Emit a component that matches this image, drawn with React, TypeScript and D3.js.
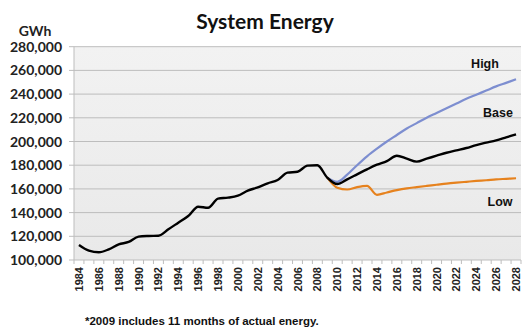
import React from "react";
import * as d3 from "d3";

const years: number[] = d3.range(1984, 2029);

const actualYears = [1984,1985,1986,1987,1988,1989,1990,1991,1992,1993,1994,1995,1996,1997,1998,1999,2000,2001,2002,2003,2004,2005,2006,2007,2008,2009];
const actualValues = [112700,107900,106500,109000,113200,115200,119700,120300,120500,125900,131500,137100,145000,144100,151800,152600,154300,158500,161300,164700,167500,173700,174500,179600,179900,169500];

const forecastYears = [2009,2010,2011,2012,2013,2014,2015,2016,2017,2018,2019,2020,2021,2022,2023,2024,2025,2026,2027,2028];
const baseValues = [169500,164100,168100,172300,176500,180400,183500,188000,185500,183000,185500,188000,190500,192500,194500,197000,199000,201000,203500,206000];
const highValues = [169500,166000,172000,180000,187500,194000,200000,205500,211000,215500,220000,224000,228000,232000,236000,239500,243000,246500,249500,252500];
const lowValues = [169500,161000,159500,161500,162500,155000,157000,159000,160500,161500,162500,163500,164500,165300,166000,166700,167300,168000,168500,169000];

const yTicks = [100000,120000,140000,160000,180000,200000,220000,240000,260000,280000];

const W = 529, H = 328;
const left = 74, right = 521, top = 46.7, bottom = 260;

export default function App() {
  const x = d3.scaleBand<number>().domain(years).range([left, right]).padding(0);
  const cx = (yr: number) => (x(yr) as number) + x.bandwidth() / 2;
  const y = d3.scaleLinear().domain([100000, 280000]).range([bottom, top]);
  const line = d3.line<[number, number]>().x(d => cx(d[0])).y(d => y(d[1])).curve(d3.curveMonotoneX);
  const zip = (a: number[], b: number[]) => a.map((v, i) => [v, b[i]] as [number, number]);

  const actualBase = zip(actualYears.slice(0, -1), actualValues.slice(0, -1)).concat(zip(forecastYears, baseValues));

  return (
    <svg width={W} height={H} style={{ position: "absolute", left: 0, top: 0 }}>
      <defs>
        <linearGradient id="bg" x1="0" y1="0" x2="0" y2="1">
          <stop offset="0%" stopColor="#f2f2f2" />
          <stop offset="100%" stopColor="#e9e9e9" />
        </linearGradient>
      </defs>
      <rect x={0} y={0} width={W} height={H} fill="#ffffff" />
      <rect x={left} y={top} width={right - left} height={bottom - top} fill="url(#bg)" />
      {yTicks.map(t => (
        <g key={t}>
          <line x1={left - 5} x2={right} y1={y(t)} y2={y(t)} stroke="#bdbdbd" strokeWidth={1} />
          <text x={62} y={y(t) + 5} textAnchor="end" fontFamily="Lato" fontWeight="bold" fontSize={14} fill="#222">
            {d3.format(",")(t)}
          </text>
        </g>
      ))}
      <line x1={left} x2={left} y1={top} y2={bottom} stroke="#bdbdbd" />
      {years.concat([2029]).map(yr => {
        const xx = yr === 2029 ? right : (x(yr) as number);
        return <line key={"t" + yr} x1={xx} x2={xx} y1={bottom} y2={bottom + 4} stroke="#bdbdbd" />;
      })}
      {years.filter(yr => yr % 2 === 0).map(yr => (
        <text key={"l" + yr} transform={`translate(${cx(yr) + 4},${bottom + 7}) rotate(-90)`} textAnchor="end"
          fontFamily="Liberation Sans" fontWeight="bold" fontSize={11} fill="#222">
          {yr}
        </text>
      ))}
      <path d={line(zip(forecastYears, highValues)) || ""} fill="none" stroke="#7d8ed0" strokeWidth={2.2} />
      <path d={line(zip(forecastYears, lowValues)) || ""} fill="none" stroke="#e6821e" strokeWidth={2.2} />
      <path d={line(actualBase) || ""} fill="none" stroke="#000" strokeWidth={2.4} strokeLinejoin="round" />
      <text x={265} y={29} textAnchor="middle" fontFamily="Lato" fontWeight="bold" fontSize={21} fill="#111">System Energy</text>
      <text x={35} y={36} textAnchor="middle" fontFamily="Lato" fontWeight="bold" fontSize={14} fill="#222">GWh</text>
      <text x={485} y={68} textAnchor="middle" fontFamily="Liberation Sans" fontWeight="bold" fontSize={12.5} fill="#111">High</text>
      <text x={498} y={117} textAnchor="middle" fontFamily="Liberation Sans" fontWeight="bold" fontSize={12.5} fill="#111">Base</text>
      <text x={500} y={206} textAnchor="middle" fontFamily="Liberation Sans" fontWeight="bold" fontSize={12.5} fill="#111">Low</text>
      <text x={85} y={325} fontFamily="Liberation Sans" fontWeight="bold" fontSize={11.5} fill="#111">*2009 includes 11 months of actual energy.</text>
    </svg>
  );
}
